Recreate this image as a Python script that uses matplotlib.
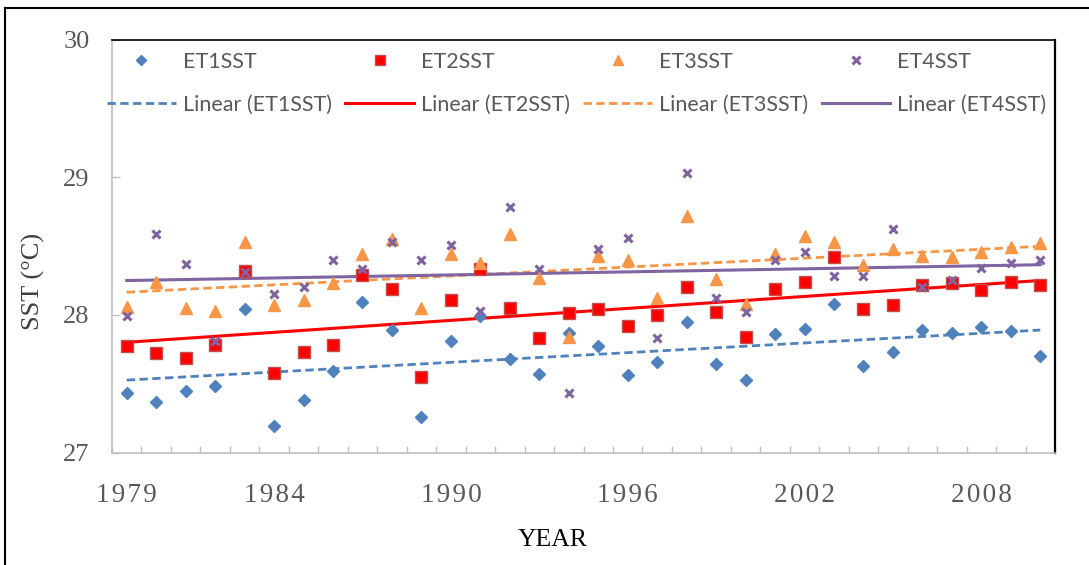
import numpy as np
import matplotlib
matplotlib.use("Agg")
import matplotlib.pyplot as plt
from matplotlib.lines import Line2D

# data
years = list(range(1979, 2011))
et1 = [27.43, 27.37, 27.45, 27.48, 28.04, 27.19, 27.38, 27.59, 28.09, 27.89, 27.26,
       27.81, 27.99, 27.68, 27.57, 27.87, 27.77, 27.56, 27.66, 27.95, 27.64, 27.53,
       27.86, 27.90, 28.08, 27.63, 27.73, 27.89, 27.87, 27.91, 27.88, 27.70]
et2 = [27.77, 27.72, 27.69, 27.78, 28.32, 27.58, 27.73, 27.78, 28.29, 28.19, 27.55,
       28.11, 28.33, 28.05, 27.83, 28.01, 28.04, 27.92, 28.00, 28.20, 28.02, 27.84,
       28.19, 28.24, 28.42, 28.04, 28.07, 28.22, 28.23, 28.18, 28.24, 28.22]
et3 = [28.06, 28.24, 28.05, 28.03, 28.53, 28.07, 28.11, 28.23, 28.44, 28.55, 28.05,
       28.44, 28.38, 28.59, 28.27, 27.84, 28.43, 28.40, 28.12, 28.72, 28.26, 28.08,
       28.44, 28.57, 28.53, 28.36, 28.48, 28.43, 28.42, 28.46, 28.49, 28.52]
et4 = [27.99, 28.59, 28.37, 27.81, 28.31, 28.15, 28.20, 28.40, 28.33, 28.53, 28.40,
       28.51, 28.03, 28.78, 28.33, 27.43, 28.48, 28.56, 27.83, 29.03, 28.12, 28.02,
       28.40, 28.46, 28.28, 28.28, 28.62, 28.20, 28.25, 28.34, 28.38, 28.40]
names = ["ET1SST", "ET2SST", "ET3SST", "ET4SST"]
tick_years = [1979, 1984, 1990, 1996, 2002, 2008]
y_ticks = [27, 28, 29, 30]

W, H = 1089, 565
fig = plt.figure(figsize=(W / 100, H / 100), dpi=100)
ax = fig.add_axes([112 / W, (H - 452.5) / H, (1055 - 112) / W, (452.5 - 39.5) / H])

styles = [
    dict(marker="D", ms=6.5, color="#4F81BD", mec="#4F81BD", ls="--", lw=2.0),
    dict(marker="s", ms=8, color="#FF0000", mec="#C0504D", ls="-", lw=2.2),
    dict(marker="^", ms=8, color="#F79646", mec="#F79646", ls="--", lw=2.0),
    dict(marker="x", ms=6, color="#8064A2", mec="#8064A2", ls="-", lw=2.2),
]

x = np.array(years)
handles = []
for series, name, st in zip([et1, et2, et3, et4], names, styles):
    pts, = ax.plot(x, series, linestyle="none", marker=st["marker"], ms=st["ms"],
                   color=st["color"], mec=st["mec"], mew=2.2 if st["marker"] == "x" else 1.0,
                   label=name, zorder=3)
    slope, icpt = np.polyfit(x, series, 1)
    ln, = ax.plot(x, slope * x + icpt, color=st["color"], ls=st["ls"], lw=st["lw"],
                  label="Linear (%s)" % name, zorder=2)
    if st["ls"] == "--":
        ln.set_dashes((3, 1.6))
    handles += [pts, ln]

ax.set_xlim(1978.5, 2010.5)
ax.set_ylim(27, 30)

grey = "#BFBFBF"
for side in ["left", "bottom"]:
    ax.spines[side].set_color(grey)
    ax.spines[side].set_linewidth(1.2)
ax.spines["top"].set_color("black")
ax.spines["top"].set_linewidth(1.2)
ax.spines["right"].set_color("black")
ax.spines["right"].set_linewidth(1.6)

ax.set_yticks(y_ticks)
ax.set_yticklabels([str(v) for v in y_ticks])
ax.tick_params(axis="y", direction="in", length=5.5, width=1, color=grey, pad=16,
               labelsize=19, labelcolor="#595959")
for t in ax.get_yticklabels():
    t.set_family(["Liberation Serif", "DejaVu Serif"])

ax.set_xticks(tick_years)
ax.set_xticklabels(["\u200a".join(str(y)) for y in tick_years])
ax.set_xticks(np.arange(1978.5, 2011, 1), minor=True)
ax.tick_params(axis="x", which="major", length=0, pad=22, labelsize=19.5,
               labelcolor="#595959")
ax.tick_params(axis="x", which="minor", direction="in", length=5, width=1, color=grey)
for t in ax.get_xticklabels():
    t.set_family(["Liberation Serif", "DejaVu Serif"])

fig.text(33 / W, 1 - 281 / H, "SST (°C)", rotation=90, ha="center", va="center",
         fontsize=19, color="#404040", family="Liberation Serif")
fig.text(553 / W, 1 - 540 / H, "YEAR", ha="center", va="center",
         fontsize=18.5, color="black", family="Liberation Serif")

leg = fig.legend(handles=handles, ncol=4, loc="upper left",
                 bbox_to_anchor=(107 / W, 1 - 52 / H), frameon=False,
                 borderpad=0, borderaxespad=0, handlelength=3.2, handletextpad=0.33,
                 columnspacing=0.61, labelspacing=1.05, markerscale=0.85,
                 prop={"family": "Lato", "size": 15.5})
for t in leg.get_texts():
    t.set_color("#595959")

# outer frame of the chart object
fig.add_artist(Line2D([5 / W, 5 / W], [0, 1 - 7.5 / H], transform=fig.transFigure,
                      color="black", lw=1.5))
fig.add_artist(Line2D([5 / W, 1], [1 - 7.5 / H, 1 - 7.5 / H], transform=fig.transFigure,
                      color="black", lw=1.5))

fig.savefig("out.png", dpi=100)
